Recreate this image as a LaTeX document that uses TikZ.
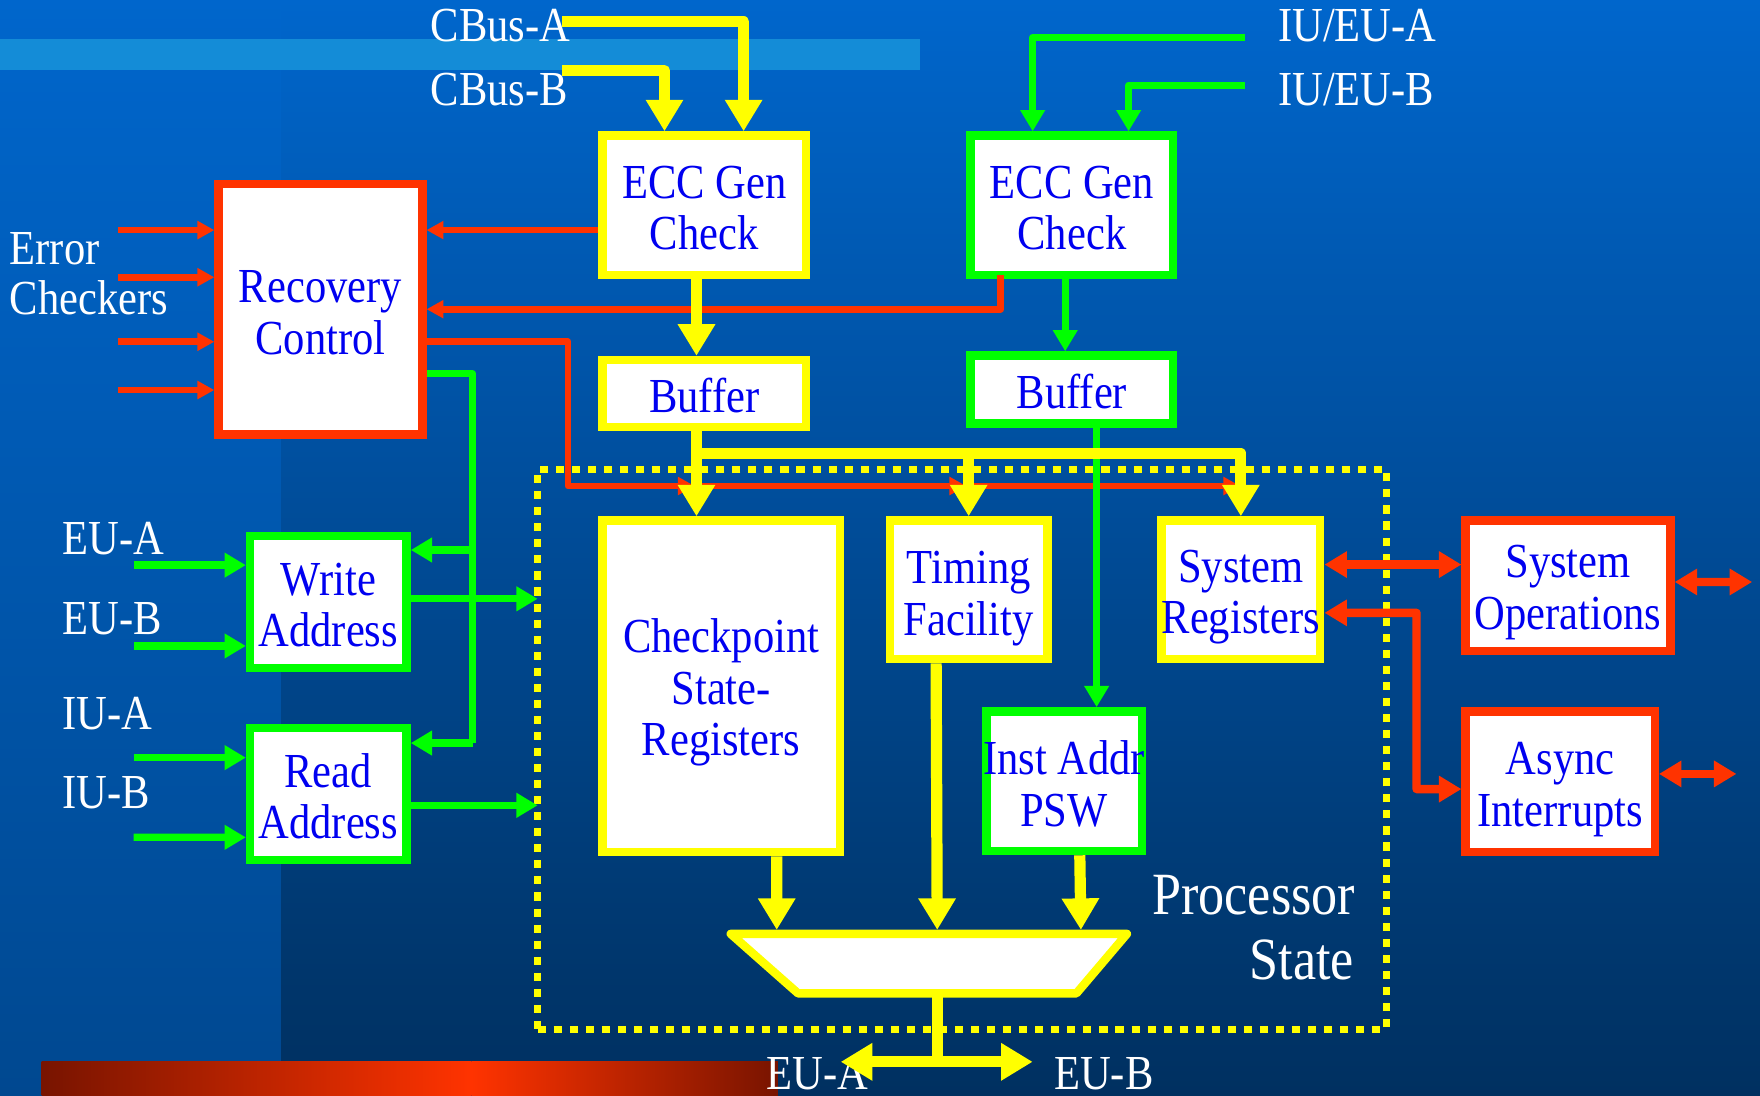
\documentclass[tikz,border=0pt]{standalone}
\usepackage{fontspec}
\setmainfont{Liberation Serif}[FakeStretch=0.87]
\usetikzlibrary{arrows.meta,calc}
\definecolor{ylw}{RGB}{255,255,0}
\definecolor{grn}{RGB}{0,255,0}
\definecolor{rd}{RGB}{255,51,0}
\definecolor{txtblue}{RGB}{0,0,240}
\definecolor{bgtop}{RGB}{0,102,204}
\definecolor{bgbot}{RGB}{0,48,96}
\definecolor{stripbot}{RGB}{0,72,144}
\definecolor{band}{RGB}{20,140,215}
\definecolor{barDark}{RGB}{120,20,0}
\definecolor{barBright}{RGB}{255,51,0}
\begin{document}
\begin{tikzpicture}[x=0.1mm,y=-0.1mm,
  box/.style={rectangle, fill=white, line width=0.75mm, inner sep=0pt},
  ybox/.style={box, draw=ylw},
  gbox/.style={box, draw=grn},
  rbox/.style={box, draw=rd},
  btxt/.style={inner sep=0pt, align=center, text=txtblue, font=\fontsize{12.4}{13.1}\selectfont},
  ylink/.style={draw=ylw, line width=1mm, line join=round, >={Triangle[width=9pt,length=8pt]}},
  glink/.style={draw=grn, line width=0.65mm, line join=round, >={Triangle[width=6pt,length=5.4pt]}},
  rlink/.style={draw=rd, line width=0.6mm, line join=round, >={Triangle[width=4.4pt,length=4.3pt]}},
  rlinkB/.style={draw=rd, line width=0.75mm, line join=round, >={Triangle[width=6.4pt,length=5.7pt]}},
  lbl/.style={text=white, font=\fontsize{12.4}{13.1}\selectfont, inner sep=0pt},
  lblbig/.style={text=white, font=\fontsize{15.2}{16}\selectfont, inner sep=0pt},
]
\useasboundingbox (0,0) rectangle (1568,976);
% background
\shade[top color=bgtop, bottom color=bgbot] (0,0) rectangle (1568,976);
\shade[top color=bgtop, bottom color=stripbot] (0,0) rectangle (250,976);
\fill[band] (0,35) rectangle (820,62);
\shade[left color=barDark, right color=barBright] (37,946) rectangle (420,976);
\shade[left color=barBright, right color=barDark] (420,946) rectangle (693,976);

% processor state frame
\node[draw=ylw, line width=0.6mm, dash pattern=on 0.72mm off 0.71mm, minimum width=75.6mm, minimum height=49.9mm, outer sep=0pt, inner sep=0pt] (ps) at (857,667.5) {};

% boxes
\node[ybox, minimum width=18.15mm, minimum height=12.45mm] (eccY) at (627.5,183) {};
\node[gbox, minimum width=18.05mm, minimum height=12.45mm] (eccG) at (955,183) {};
\node[rbox, minimum width=18.15mm, minimum height=22.35mm] (rec) at (285.5,275.5) {};
\node[ybox, minimum width=18.15mm, minimum height=5.95mm] (bufY) at (627.5,350.5) {};
\node[gbox, minimum width=18.05mm, minimum height=6.05mm] (bufG) at (955,347) {};
\node[gbox, minimum width=13.95mm, minimum height=11.75mm] (wa) at (292.5,536.5) {};
\node[gbox, minimum width=13.95mm, minimum height=11.75mm] (ra) at (292.5,707.5) {};
\node[ybox, minimum width=21.15mm, minimum height=29.55mm] (ckpt) at (642.5,611.5) {};
\node[ybox, minimum width=14.05mm, minimum height=12.35mm] (tim) at (863,525.5) {};
\node[ybox, minimum width=14.15mm, minimum height=12.35mm] (sysr) at (1105.5,525.5) {};
\node[gbox, minimum width=13.85mm, minimum height=12.45mm] (inst) at (948,696) {};
\node[rbox, minimum width=18.25mm, minimum height=11.65mm] (sysop) at (1397,522) {};
\node[rbox, minimum width=16.85mm, minimum height=12.55mm] (async) at (1390,696.5) {};

% box texts
\node[btxt] (eccYt) at ($(eccY)+(0,2.5)$) {ECC Gen\\Check};
\node[btxt] (eccGt) at ($(eccG)+(0,2.5)$) {ECC Gen\\Check};
\node[btxt] (rect) at ($(rec)+(0,3)$) {Recovery\\Control};
\node[btxt] (bufYt) at ($(bufY)+(0,2)$) {Buffer};
\node[btxt] (bufGt) at ($(bufG)+(0,2)$) {Buffer};
\node[btxt] (wat) at ($(wa)+(0,2.5)$) {Write\\Address};
\node[btxt] (rat) at ($(ra)+(0,2)$) {Read\\Address};
\node[btxt] (ckptt) at ($(ckpt)+(0,5.5)$) {Checkpoint\\State-\\Registers};
\node[btxt] (timt) at ($(tim)+(0,7.5)$) {Timing\\Facility};
\node[btxt] (sysrt) at ($(sysr)+(0,6.5)$) {System\\Registers};
\node[btxt] (instt) at ($(inst)+(0,2.5)$) {Inst Addr\\PSW};
\node[btxt] (sysopt) at ($(sysop)+(0,6)$) {System\\Operations};
\node[btxt] (asynct) at ($(async)+(0,7)$) {Async\\Interrupts};

% mux
\draw[draw=ylw, line width=0.75mm, fill=white, line join=round] (651,832) -- (1004,832) -- (959,885) -- (711,885) -- cycle;
\coordinate (muxA) at (692,828.5);
\coordinate (muxB) at (835,828.5);
\coordinate (muxC) at (963,828.5);
\coordinate (muxO) at (835,888);
\coordinate (muxJ) at (835,946);
\coordinate (euAt) at (749,946);
\coordinate (euBt) at (920,946);

% labels
\node[lbl, anchor=base west] (lCA) at (383,37) {CBus-A};
\node[lbl, anchor=base west] (lCB) at (383,94) {CBus-B};
\node[lbl, anchor=base west] (lIA) at (1138,37) {IU/EU-A};
\node[lbl, anchor=base west] (lIB) at (1138,94) {IU/EU-B};
\node[lbl, anchor=base west] (lE1) at (8,236) {Error};
\node[lbl, anchor=base west] (lE2) at (8,280.5) {Checkers};
\node[lbl, anchor=base west] (lEUA) at (55,494) {EU-A};
\node[lbl, anchor=base west] (lEUB) at (55,565) {EU-B};
\node[lbl, anchor=base west] (lIUA) at (55,650) {IU-A};
\node[lbl, anchor=base west] (lIUB) at (55,720.5) {IU-B};
\node[lbl, anchor=base west, text depth=0pt] (oEUA) at (682,971) {EU-A};
\node[lbl, anchor=base west, text depth=0pt] (oEUB) at (938.5,971) {EU-B};
\node[lblbig, anchor=base east] (psT1) at (1208,815) {Processor};
\node[lblbig, anchor=base east] (psT2) at (1207,873) {State};

% red connectors
\coordinate (ec1) at (105,205);
\coordinate (ec2) at (105,247);
\coordinate (ec3) at (105,304.5);
\coordinate (ec4) at (105,347.5);
\draw[rlink,->] (ec1) -- ($(rec.west)+(0,-70.5)$);
\draw[rlink,->] (ec2) -- ($(rec.west)+(0,-28.5)$);
\draw[rlink,->] (ec3) -- ($(rec.west)+(0,29)$);
\draw[rlink,->] (ec4) -- ($(rec.west)+(0,72)$);
\draw[rlink,->] ($(eccY.west)+(0,22)$) -- ($(rec.east)+(0,-70.5)$);
\draw[rlink,->] ($(eccG.south)+(-63.5,-4)$) |- (rec.east);
\coordinate (rK) at (506,433);
\coordinate (rA) at (619,433);
\coordinate (rB) at (861,433);
\coordinate (rC) at (1105,433);
\draw[rlink,->] ($(rec.east)+(0,29)$) -| (rK) -- (rA);
\draw[rlink,->] (rA) -- (rB);
\draw[rlink,->] (rB) -- (rC);
\draw[rlinkB,<->] ($(sysr.east)+(0,-22.5)$) -- ($(sysop.west)+(0,-19)$);
\coordinate (rK3) at (1262,703);
\draw[rlinkB,<->] ($(sysr.east)+(0,20.5)$) -| (rK3) -- ($(async.west)+(0,6.5)$);
\coordinate (soOut) at (1561,518.5);
\coordinate (aiOut) at (1547,689.5);
\draw[rlinkB,<->] ($(sysop.east)+(0,-3.5)$) -- (soOut);
\draw[rlinkB,<->] ($(async.east)+(0,-7)$) -- (aiOut);

% green connectors
\coordinate (iuA) at (1109,33.5);
\coordinate (iuB) at (1109,76);
\draw[glink,->] (iuA) -| ($(eccG.north)+(-35,0)$);
\draw[glink,->] (iuB) -| ($(eccG.north)+(50.5,0)$);
\draw[glink,->] ($(eccG.south)+(-6,0)$) -- ($(bufG.north)+(-6,0)$);
\draw[glink,->] ($(bufG.south)+(22,0)$) -- ($(inst.north)+(29,0)$);
\coordinate (gW) at (421,490);
\coordinate (gR) at (421,662);
\draw[glink] ($(rec.east)+(0,57.5)$) -| (gR);
\draw[glink,->] (gW) -- ($(wa.east)+(0,-46.5)$);
\draw[glink,->] (gR) -- ($(ra.east)+(0,-45.5)$);
\coordinate (euAin) at (119,503.5);
\coordinate (euBin) at (119,575.5);
\coordinate (iuAin) at (119,675);
\coordinate (iuBin) at (119,746);
\draw[glink,->] (euAin) -- ($(wa.west)+(0,-33)$);
\draw[glink,->] (euBin) -- ($(wa.west)+(0,39)$);
\draw[glink,->] (iuAin) -- ($(ra.west)+(0,-32.5)$);
\draw[glink,->] (iuBin) -- ($(ra.west)+(0,38.5)$);
\draw[glink,->] ($(wa.east)+(0,-3)$) -- ($(ps.west)+(0,-134)$);
\draw[glink,->] ($(ra.east)+(0,10)$) -- ($(ps.west)+(0,50)$);

% yellow connectors
\coordinate (cbA) at (501,19.5);
\coordinate (cbB) at (501,63);
\draw[ylink,->] (cbA) -| ($(eccY.north)+(35,0)$);
\draw[ylink,->] (cbB) -| ($(eccY.north)+(-35.5,0)$);
\draw[ylink,->] ($(eccY.south)+(-7,0)$) -- ($(bufY.north)+(-7,0)$);
\coordinate (busL) at (620.5,404);
\coordinate (busM) at (863,404);
\coordinate (busR) at (1105.5,404);
\draw[ylink,->] ($(bufY.south)+(-7,0)$) |- (busR) -- (sysr.north);
\draw[ylink,->] (busL) -- ($(ckpt.north)+(-22,0)$);
\draw[ylink,->] (busM) -- (tim.north);
\draw[ylink,->] ($(ckpt.south)+(49.5,0)$) -- (muxA);
\draw[ylink,->] ($(tim.south)+(-29,0)$) -- (muxB);
\draw[ylink,->] ($(inst.south)+(14,0)$) -- (muxC);
\draw[ylink] (muxO) -- (muxJ);
\draw[ylink,<->] (euAt) -- (euBt);
\end{tikzpicture}
\end{document}
